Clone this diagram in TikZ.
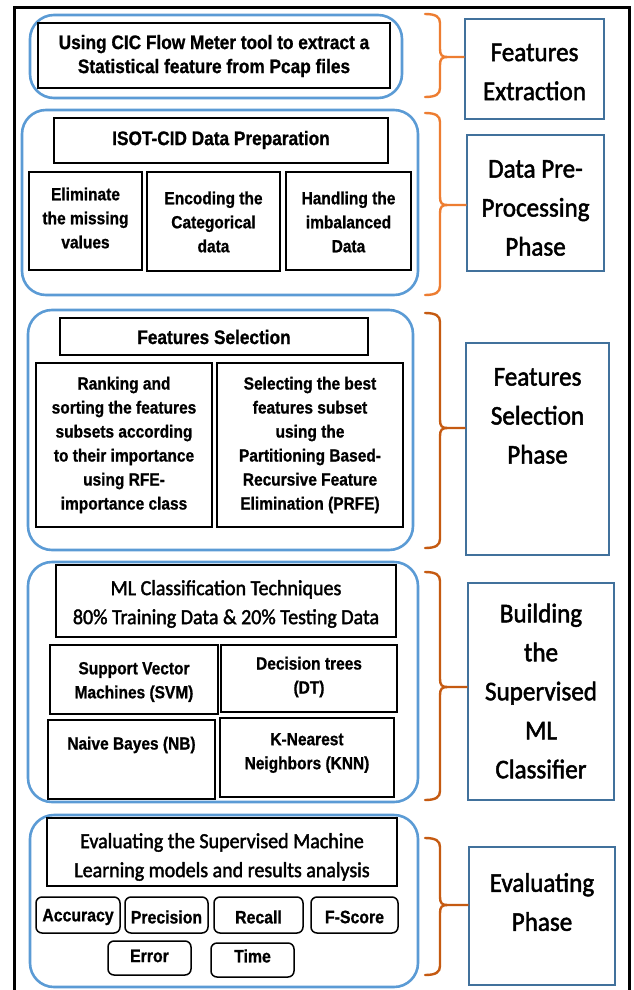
\documentclass[tikz,border=0pt]{standalone}
\usepackage{fontspec}
\newfontfamily\arlfont[FakeStretch=0.88, FakeBold=0.9]{Liberation Sans Bold}
\newfontfamily\calfont[FakeStretch=0.93, FakeBold=1.8]{Carlito}
\definecolor{grpblue}{HTML}{5B9BD5}
\definecolor{phblue}{HTML}{41719C}
\definecolor{brlight}{HTML}{ED7D31}
\definecolor{brdark}{HTML}{C55A11}
\tikzset{
 group/.style={draw=grpblue, line width=2.6pt, rounded corners=24pt, inner sep=0pt},
 inbox/.style={draw=black, line width=1.6pt, inner sep=0pt},
 pill/.style={draw=black, line width=1.5pt, rounded corners=6pt, inner sep=0pt},
 phase/.style={draw=phblue, line width=2.6pt, inner sep=0pt},
 brace/.style={line width=2.4pt, line cap=round},
 ta/.style={inner sep=0pt, align=center, font=\arlfont\fontsize{17.6}{24}\selectfont},
 tb/.style={inner sep=0pt, align=center, font=\arlfont\fontsize{19.6}{24}\selectfont},
 ts/.style={inner sep=0pt, align=center, font=\arlfont\fontsize{18}{22}\selectfont},
 tc/.style={inner sep=0pt, align=center, font=\calfont\fontsize{21.5}{29}\selectfont},
 tr/.style={inner sep=0pt, align=center, font=\calfont\fontsize{27}{39}\selectfont},
 gtext/.style={inner sep=0pt}
}
% box by corners: name, x1, y1, x2, y2, box style, text style, text centre y, text
\newcommand\bx[9]{%
 \pgfmathsetmacro\bxcx{(#2+#4)/2}%
 \pgfmathsetmacro\bxcy{(#3+#5)/2}%
 \pgfmathsetmacro\bxw{#4-#2}%
 \pgfmathsetmacro\bxh{#5-#3}%
 \node[#6, minimum width=\bxw pt, minimum height=\bxh pt] (#1) at (\bxcx,\bxcy) {};
 \node[#7] (#1t) at (\bxcx,#8) {#9};}
% brace: name, top y, bottom y, tip y, target node, colour
\newcommand\mybrace[6]{%
 \coordinate (#1) at (447,#4);
 \draw[brace, draw=#6] (425,#2) .. controls (436,#2) and (440,#2+3) .. (440,#2+9)
   -- (440,#4-8) .. controls (440,#4-2) and (442,#4) .. (#1) -- (#1 -| #5.west);
 \draw[brace, draw=#6] (#1) .. controls (442,#4) and (440,#4+2) .. (440,#4+8)
   -- (440,#3-9) .. controls (440,#3-3) and (436,#3) .. (425,#3);}
\begin{document}
\begin{tikzpicture}[x=1pt,y=-1pt]
\useasboundingbox (0,0) rectangle (634,990);
\fill[white] (0,0) rectangle (634,990);
\draw[line width=3pt] (14,995) -- (14,8) -- (629,8) -- (629,995);

% groups
\bx{G1}{30}{15}{402}{98}{group}{gtext}{56}{}
\bx{G2}{22}{110}{418}{295}{group}{gtext}{200}{}
\bx{G3}{28}{310}{413}{550}{group}{gtext}{430}{}
\bx{G4}{28}{562}{418}{802}{group}{gtext}{682}{}
\bx{G5}{30}{815}{418}{987}{group}{gtext}{901}{}

% group 1
\bx{B1}{38}{23}{390}{88}{inbox}{tb}{56}{Using CIC Flow Meter tool to extract a\\Statistical feature from Pcap files}

% group 2
\bx{B2t}{54}{118}{388}{163}{inbox}{tb}{140}{ISOT-CID Data Preparation}
\bx{B2a}{29}{172}{142}{270}{inbox}{ta}{218}{Eliminate\\the missing\\values}
\bx{B2b}{147}{172}{280}{271}{inbox}{ta}{222}{Encoding the\\Categorical\\data}
\bx{B2c}{286}{172}{411}{270}{inbox}{ta}{222}{Handling the\\imbalanced\\Data}

% group 3
\bx{B3t}{60}{318}{368}{355}{inbox}{tb}{337}{Features Selection}
\bx{B3a}{36}{363}{212}{527}{inbox}{ta}{445}{Ranking and\\sorting the features\\subsets according\\to their importance\\using RFE-\\importance class}
\bx{B3b}{217}{363}{403}{527}{inbox}{ta}{445}{Selecting the best\\features subset\\using the\\Partitioning Based-\\Recursive Feature\\Elimination (PRFE)}

% group 4
\bx{B4t}{56}{565}{396}{637}{inbox}{tc}{604}{ML Classification Techniques\\80\% Training Data \& 20\% Testing Data}
\bx{B4a}{50}{645}{218}{714}{inbox}{ta}{682}{Support Vector\\Machines (SVM)}
\bx{B4b}{221}{645}{397}{712}{inbox}{ta}{677}{Decision trees\\(DT)}
\bx{B4c}{48}{720}{215}{799}{inbox}{ta}{745}{Naive Bayes (NB)}
\bx{B4d}{220}{718}{394}{797}{inbox}{ta}{753}{K-Nearest\\Neighbors (KNN)}

% group 5
\bx{B5t}{47}{818}{397}{886}{inbox}{tc}{857}{Evaluating the Supervised Machine\\Learning models and results analysis}
\bx{P1}{36}{897}{120}{933}{pill}{ts}{917}{Accuracy}
\bx{P2}{125}{897}{208}{933}{pill}{ts}{917}{Precision}
\bx{P3}{214}{897}{303}{933}{pill}{ts}{917}{Recall}
\bx{P4}{311}{897}{398}{933}{pill}{ts}{917}{F-Score}
\bx{P5}{108}{941}{191}{975}{pill}{ts}{956}{Error}
\bx{P6}{211}{943}{294}{977}{pill}{ts}{956}{Time}

% phase boxes
\bx{R1}{465}{19}{604}{119}{phase}{tr}{72}{Features\\Extraction}
\bx{R2}{467}{135}{604}{271}{phase}{tr}{208}{Data Pre-\\Processing\\Phase}
\bx{R3}{466}{343}{609}{555}{phase}{tr}{416}{Features\\Selection\\Phase}
\bx{R4}{468}{583}{614}{800}{phase}{tr}{691}{Building\\the\\Supervised\\ML\\Classifier}
\bx{R5}{469}{847}{615}{985}{phase}{tr}{902}{Evaluating\\Phase}

% braces
\mybrace{t1}{14}{97}{57}{R1}{brlight}
\mybrace{t2}{113}{295}{205}{R2}{brlight}
\mybrace{t3}{313}{548}{428}{R3}{brdark}
\mybrace{t4}{572}{800}{687}{R4}{brdark}
\mybrace{t5}{838}{975}{905}{R5}{brdark}
\end{tikzpicture}
\end{document}
